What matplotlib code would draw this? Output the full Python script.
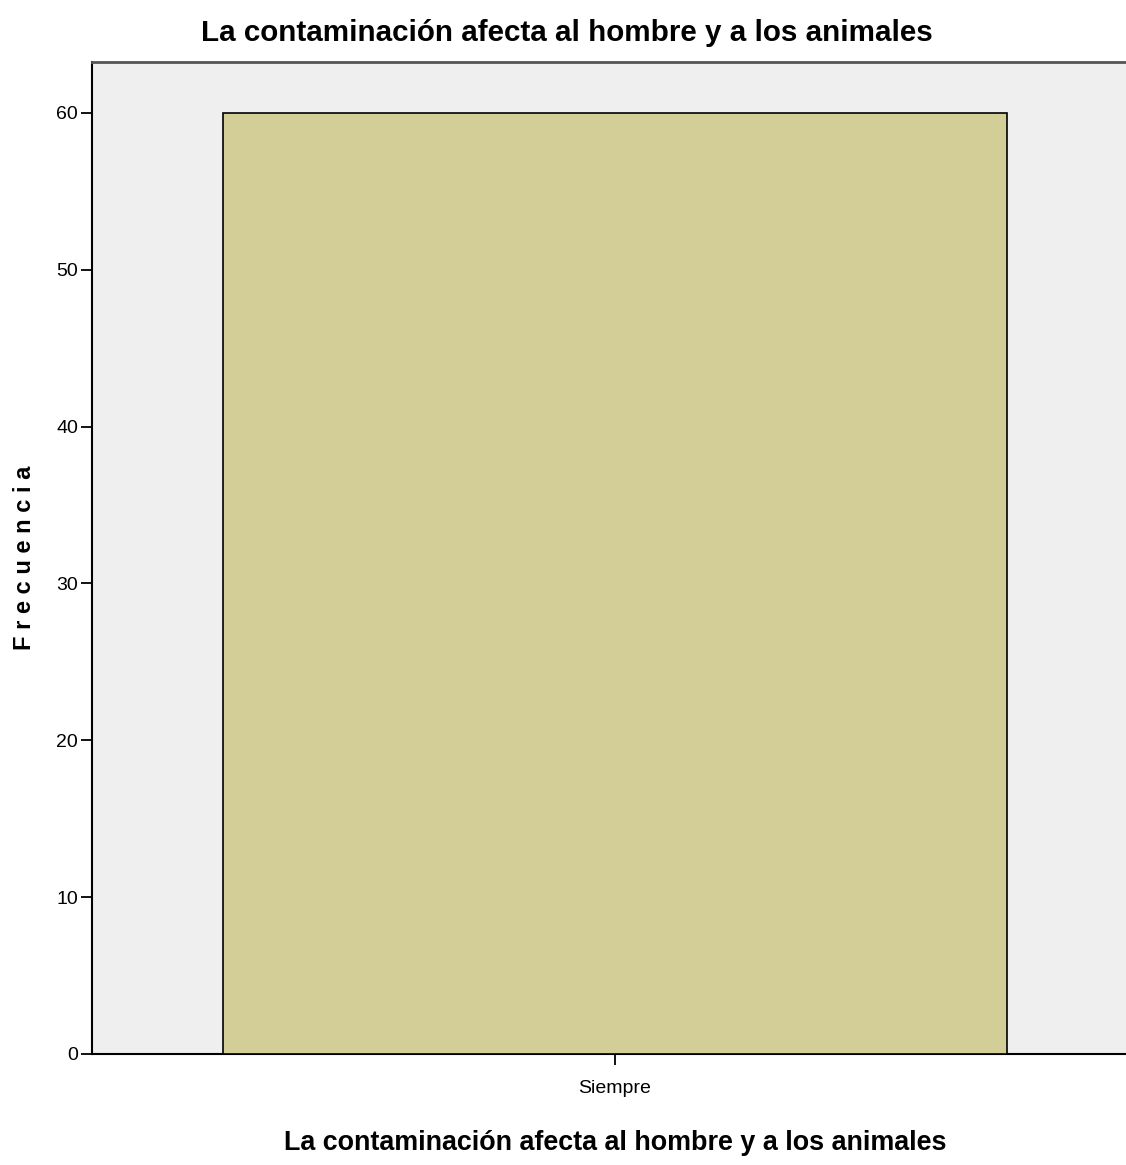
import matplotlib
matplotlib.use("Agg")
import matplotlib.pyplot as plt

categories = ["Siempre"]
frequencies = [60]
yticks = [0, 10, 20, 30, 40, 50, 60]

font = "Liberation Sans"

fig = plt.figure(figsize=(11.26, 11.65), dpi=100)
ax = fig.add_axes([92/1126, 1-1054/1165, (1138-92)/1126, (1054-62)/1165])
ax.set_facecolor("#efefef")
ax.bar(range(len(categories)), frequencies, width=0.75, color="#d3ce97",
       edgecolor="black", linewidth=1.2, zorder=3)
ax.set_xlim(-0.5, 0.5)
ax.set_ylim(0, 63.25)
ax.set_xticks(range(len(categories)))
ax.set_xticklabels(categories, fontfamily=font, fontsize=14)
ax.set_yticks(yticks)
ax.set_yticklabels([str(v) for v in yticks], fontfamily=font, fontsize=14)
ax.tick_params(axis="both", length=8, width=1.3, color="black", pad=2)
ax.tick_params(axis="x", pad=11)
ax.spines["right"].set_visible(False)
ax.spines["left"].set_linewidth(1.5)
ax.spines["bottom"].set_linewidth(1.5)
ax.spines["top"].set_linewidth(2)
ax.spines["top"].set_color("#555555")

fig.text(567/1126, 1-33/1165, "La contaminación afecta al hombre y a los animales",
         ha="center", va="center", fontfamily=font, fontweight="bold", fontsize=21.3)
fig.text(615/1126, 1-1143/1165, "La contaminación afecta al hombre y a los animales",
         ha="center", va="center", fontfamily=font, fontweight="bold", fontsize=19.4)
fig.text(25/1126, 1-558/1165, "F r e c u e n c i a", rotation=90,
         ha="center", va="center", fontfamily=font, fontweight="bold", fontsize=17)

fig.savefig("out.png", dpi=100)
